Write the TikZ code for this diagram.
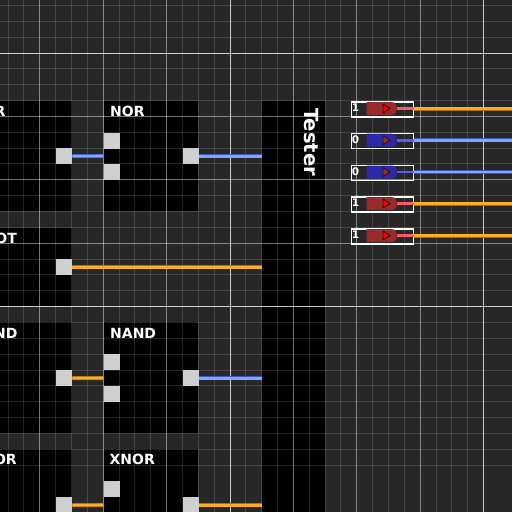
\documentclass[tikz,border=0pt]{standalone}
\usepackage{fontspec}
\setmainfont{DejaVu Sans}
\definecolor{bgc}{HTML}{272727}
\definecolor{portc}{HTML}{CFCFCF}
\definecolor{orgc}{HTML}{FFAE22}
\definecolor{orgd}{HTML}{A8701A}
\definecolor{bluec}{HTML}{7FA8FF}
\definecolor{blued}{HTML}{3A55C0}
\definecolor{ledred}{HTML}{9A2A2A}
\definecolor{ledblue}{HTML}{2A2AA8}
\definecolor{pinkw}{HTML}{FF5A6A}
\definecolor{bluew}{HTML}{5A5AFF}
\tikzset{
 x=1pt,y=-1pt,
 panel/.style={fill=black,draw=none,inner sep=0,minimum width=#1,anchor=north west},
 port/.style={fill=portc,draw=none,inner sep=0,minimum size=16pt,anchor=north west},
 title/.style={text=white,font=\fontsize{14}{15}\selectfont\bfseries,anchor=west,inner sep=0},
 onw/.style={draw=orgd,line width=4pt,postaction={draw=orgc,line width=2.6pt}},
 ofw/.style={draw=blued,line width=4pt,postaction={draw=bluec,line width=2.6pt}},
 ledframe/.style={draw=white,line width=1.5pt,fill=none,minimum width=62pt,minimum height=15pt,inner sep=0,anchor=north west},
 ledtxt/.style={text=white,font=\fontsize{10.5}{11}\selectfont\bfseries,inner sep=0},
 redbody/.style={fill=ledred,draw=none},
 bluebody/.style={fill=ledblue,draw=none},
}
\begin{document}
\begin{tikzpicture}
\useasboundingbox (0,0) rectangle (512,512);
\clip (0,0) rectangle (512,512);
\fill[bgc] (0,0) rectangle (512,512);
% panels
\node[panel=94.5pt,minimum height=110pt] (orbox) at (-22.5,101) {};
\node[panel=94.5pt,minimum height=110pt] (norbox) at (103.5,101) {};
\node[panel=94.5pt,minimum height=78pt] (notbox) at (-22.5,228) {};
\node[panel=94.5pt,minimum height=111pt] (andbox) at (-22.5,322) {};
\node[panel=94.5pt,minimum height=111pt] (nandbox) at (103.5,322) {};
\node[panel=94.5pt,minimum height=80pt] (xorbox) at (-22.5,449) {};
\node[panel=94.5pt,minimum height=80pt] (xnorbox) at (103.5,449) {};
\node[panel=63pt,minimum height=420pt] (tester) at (262,101) {};
% grid
\foreach \k in {-1,...,29} {
  \draw[white,opacity=.14,line width=1pt] ({230+\k*15.85-14*15.85},0) -- ({230+\k*15.85-14*15.85},512);
  \draw[white,opacity=.14,line width=1pt] (0,{53+\k*15.85-3*15.85}) -- (512,{53+\k*15.85-3*15.85});
}
\foreach \k in {-3,...,4} {
  \draw[white,opacity=.36,line width=1pt] ({230+\k*63.4},0) -- ({230+\k*63.4},512);
  \draw[white,opacity=.36,line width=1pt] (0,{53+\k*63.4}) -- (512,{53+\k*63.4});
}
\foreach \k in {0,1} {
  \draw[white,opacity=.6,line width=1pt] ({230+\k*253.6},0) -- ({230+\k*253.6},512);
  \draw[white,opacity=.6,line width=1pt] (0,{53+\k*253.6}) -- (512,{53+\k*253.6});
}
% titles
\node[title] (t1) at (-17.5,111.5) {OR};
\node[title] (t2) at (110,111.5) {NOR};
\node[title] (t3) at (-16.5,238.5) {NOT};
\node[title] (t4) at (-17,333) {AND};
\node[title] (t5) at (110,333) {NAND};
\node[title] (t6) at (-16.5,459.5) {XOR};
\node[title] (t7) at (109.5,459.5) {XNOR};
\node[rotate=-90,anchor=west,text=white,inner sep=0,font=\fontsize{19.5}{20}\selectfont\bfseries] (t8) at (311,108) {Tester};
% ports
\node[port] (p1) at (56,148) {};
\node[port] (p2a) at (103.5,132.5) {};
\node[port] (p2b) at (103.5,164) {};
\node[port] (p2o) at (182.5,148) {};
\node[port] (p3) at (56,259) {};
\node[port] (p4) at (56,370) {};
\node[port] (p5a) at (103.5,354) {};
\node[port] (p5b) at (103.5,386) {};
\node[port] (p5o) at (182.5,370) {};
\node[port] (p6) at (56,497) {};
\node[port] (p7a) at (103.5,481) {};
\node[port] (p7o) at (182.5,497) {};
% gate wires
\coordinate (w1e) at (103.5,156);
\coordinate (w4e) at (103.5,378);
\coordinate (w6e) at (103.5,505);
\draw[ofw] (p1.east) -- (w1e);
\draw[ofw] (p2o.east) -- (tester.west |- p2o.east);
\draw[onw] (p3.east) -- (tester.west |- p3.east);
\draw[onw] (p4.east) -- (w4e);
\draw[ofw] (p5o.east) -- (tester.west |- p5o.east);
\draw[onw] (p6.east) -- (w6e);
\draw[onw] (p7o.east) -- (tester.west |- p7o.east);
% LEDs
\foreach \n/\y/\v/\st/\wc/\wire/\tri in {
  a/101/1/redbody/pinkw/onw/red,
  b/132.7/0/bluebody/bluew/ofw/ledred,
  c/164.5/0/bluebody/bluew/ofw/ledred,
  d/196/1/redbody/pinkw/onw/red,
  e/228/1/redbody/pinkw/onw/red}{
  \node[ledframe] (f\n) at (350.5,\y) {};
  \node[ledtxt] (v\n) at (355.5,\y+6.8) {\v};
  \fill[\st] (366.5,\y+1) -- (392,\y+1) to[out=0,in=90] (396.5,\y+5) -- (396.5,\y+10) to[out=-90,in=0] (392,\y+14) -- (366.5,\y+14) -- cycle;
  \draw[fill=\tri,draw=black!70!ledred,line width=.8pt] (383,\y+3) -- (390,\y+7.5) -- (383,\y+12) -- cycle;
  \coordinate (r\n) at (512,\y+7.5);
  \coordinate (s\n) at (397,\y+7.5);
  \draw[\wire] (f\n.east |- s\n) -- (r\n);
  \draw[\wc,line width=2.6pt] (s\n) -- (f\n.east |- s\n);
}
\end{tikzpicture}
\end{document}
